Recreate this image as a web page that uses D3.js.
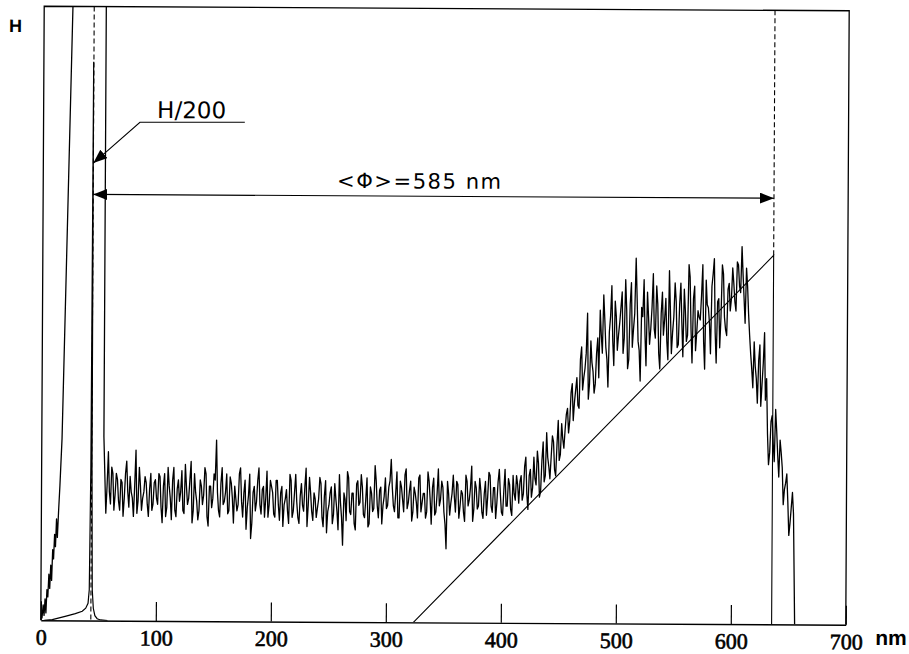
<!DOCTYPE html>
<html>
<head>
<meta charset="utf-8">
<script src="https://cdn.jsdelivr.net/npm/d3@7"></script>
<style>
  body { margin: 0; background: #fff; }
  svg { display: block; }
  .tick text { font-family: "Liberation Serif", "DejaVu Serif", serif; }
</style>
</head>
<body>
<svg id="chart" width="909" height="654"></svg>
<script>
// x axis ticks (nm)
const xTicks = [0, 100, 200, 300, 400, 500, 600, 700];

// magnified curve: steep rise at the origin [nm, value]
const riseData = [
  [1, 0.3], [2, 2.5], [2.8, 0.8], [3.6, 3.5], [4.4, 1.2], [5.2, 5], [6, 3.8],
  [6.8, 7.5], [7.6, 5.2], [8.4, 9], [9.2, 6.5], [10, 11.5], [10.8, 10],
  [11.6, 14], [12.4, 12], [13.2, 16.5], [14, 13.5], [15, 18], [16, 22],
  [17.6, 29.6], [25, 100], [25.5, 110]
];
// magnified curve: coming back down from off-scale
const fallData = [[54, 110], [54, 30]];

// magnified curve, noisy part: values at even nm (56, 58, ... 654)
const noiseEven = [
  // 56 - 100
  17.5, 27.5, 19, 24, 20.5, 23, 18, 22.5, 20, 26, 18.5, 21, 17, 27.8, 19.5, 22, 20, 23.5, 19, 21.5, 18, 22.5, 20,
  // 102 - 200
  24, 18.5, 22, 17, 25, 20, 23, 18, 21.5, 19.5, 24.5, 17.5, 22, 20, 26, 18, 21, 16.5, 23, 19,
  25, 17, 22, 18.5, 24, 29.5, 18, 22.5, 19, 21, 17.5, 23.5, 20, 22, 18, 24, 19.5, 21, 15, 20.5,
  13.5, 21, 18, 23, 19, 21.5, 17, 24.5, 19, 22,
  // 202 - 300
  17.5, 23, 19, 21, 15.5, 20, 18, 24, 17, 21, 19.5, 16, 22.5, 18, 25, 19, 21, 16.5, 20, 18.5,
  23.5, 17, 20.5, 14.5, 19, 22, 17.5, 20, 15, 19.5, 12.5, 20, 24.5, 18, 21, 16, 22.5, 19, 24, 17.5,
  20, 15.5, 22, 18, 25.5, 19, 21.5, 16, 20.5, 18.5,
  // 302 - 414
  22, 26.5, 19, 21, 17, 23, 20, 24, 18.5, 21.5, 16.5, 22, 19.5, 23.5, 18, 21, 17, 24.5, 20, 22,
  17.5, 21, 19, 23, 18, 12, 21, 19.5, 24, 18, 22.5, 19, 21, 16.5, 23, 20, 25.5, 18.5, 22, 19,
  21.5, 17, 23, 20.5, 24, 18, 22, 19.5, 25, 18, 21.5, 19, 23.5, 18.5, 24, 20, 22.5,
  // 416 - 454
  23, 20, 25.5, 21, 24, 20.5, 27, 22.5, 26, 21.5, 29.5, 24, 27, 23.5, 30.5, 25, 29, 26.5, 32.5, 28.5,
  // 456 - 484
  34, 31, 37.5, 33, 38, 35.5, 43, 38, 41.5, 50.5, 39, 42.5, 37.5, 44, 40,
  // 486 - 600
  47, 53.5, 45, 38.5, 50, 46, 52.5, 44.5, 49, 54, 46.5, 51, 43, 55.5, 48, 59.5, 46, 39.5, 50, 47,
  54, 45.5, 51.5, 48, 55, 44, 50.5, 47, 53, 43, 51, 47.5, 55.5, 45, 52, 49, 54.5, 46, 58.5, 48,
  53, 44.5, 51, 49.5, 58.5, 41.5, 52, 49, 55, 59.5, 42.5, 53, 50, 57, 48, 54.5, 51, 58,
  // 602 - 614
  52.5, 59, 55, 61.5, 53, 58, 50.5,
  // 616 - 654
  44, 38.5, 42, 36, 45.5, 39, 47.5, 40, 26, 33, 29.5, 35, 27.5, 30, 25.5, 22, 24.5, 14.5, 19, 18
];
// magnified curve, noisy part: values at odd nm (57, 59, ... 653)
const noiseOdd = [
  // 57 - 99
  22, 21, 25, 18, 24, 19.5, 23, 17, 24, 21, 23.5, 20, 22, 17.5, 25, 18, 21, 22.5, 17, 24, 19, 23,
  // 101 - 199
  19, 23.5, 16, 24, 18.5, 22, 16.5, 25, 17, 23,
  21, 18, 25.5, 19, 23, 16, 24, 19.5, 18, 22,
  20.5, 24, 15.5, 22, 20, 23, 21, 17, 25, 19.5,
  24, 18, 22.5, 16, 20, 19, 25, 17, 23, 18.5,
  24, 16, 22, 19.5, 25, 17.5, 22, 20, 17, 23,
  // 201 - 299
  21, 17, 23, 16.5, 22, 19, 21.5, 16, 23, 18,
  24, 17, 20.5, 19, 22, 15.5, 23.5, 18, 21, 17,
  20, 22.5, 15.5, 23, 18, 21, 16, 22.5, 18, 24,
  17, 21, 16.5, 23.5, 17.5, 21, 15, 23, 19.5, 22,
  17, 23.5, 16, 21, 18.5, 23, 17, 22, 19, 23.5,
  // 301 - 413
  19, 23, 22, 18, 24.5, 17, 22, 18, 25, 19.5,
  23, 18, 21, 17, 24, 19.5, 21, 18, 23, 16,
  23.5, 18, 25, 20, 22, 16, 23, 17.5, 21, 20.5,
  23, 17, 21.5, 18, 24, 19, 22, 16.5, 23, 18.5,
  23.5, 18, 21, 17.5, 24.5, 19, 22, 17, 23, 21,
  17.5, 25, 19, 22.5, 17.5, 21, 24,
  // 415 - 453
  19.5, 24, 21, 27, 18.5, 25, 22, 23.5, 28, 20.5, 26.5, 23, 31, 25.5, 27, 29.5, 24, 33, 27.5, 30,
  // 455 - 483
  31.5, 35, 33, 39, 36, 40, 35, 45, 40, 44, 36.5, 46, 41, 39, 46.5,
  // 485 - 599
  51, 44, 49.5, 43, 47.5, 55, 42, 50, 47, 51.5,
  44, 56, 41.5, 52, 45, 50.5, 53, 44.5, 51.5, 56,
  42, 50, 48, 57, 46.5, 52, 41.5, 54, 49.5, 46,
  57.5, 44, 50, 52.5, 45.5, 55.5, 43.5, 51, 47, 56.5,
  42.5, 55, 47.5, 50, 53.5, 46, 56, 51.5, 44, 57,
  47.5, 52.5, 45, 58.5, 50, 47, 55.5, 53,
  // 601 - 613
  55.5, 51, 58.5, 54, 57, 49, 55,
  // 615 - 653
  47, 41.5, 46, 40, 43, 35.5, 42.5, 36.5, 31, 28, 34, 26.5, 31.5, 24, 28, 19.5, 23, 20, 16.5, 21.5
];
const noiseStart = 56;
const tailData = [[655.5, 0]];

// unscaled curve with the narrow peak (height H)
const peakData = [
  [3, 0], [10, 0.1], [16, 0.4], [22, 0.7], [30, 1.1], [36, 1.5], [39, 2], [41, 2.8],
  [42, 5], [42.8, 25], [43.3, 91], [43.8, 25], [44.6, 5], [45.6, 2], [47, 0.8],
  [49, 0.3], [52, 0.1], [58, 0]
];

// straight line fitted to the rise, ending at the right marker
const fitData = [[324, 0], [635.5, 60.1], [635.5, 0]];

// markers and annotations
const markLeft = 43.5, markRight = 635.5, markTop = 60.1;
const arrowLevel = 69.4;
const phiLabel = "<Φ>=585 nm";
const hLabel = "H/200";

const svg = d3.select("#chart");

const x = d3.scaleLinear().domain([0, 700]).range([42.5, 847.5]);
const y = d3.scaleLinear().domain([0, 100]).range([622.5, 8.5]);

const defs = svg.append("defs");
defs.append("clipPath").attr("id", "plotClip")
  .append("rect")
    .attr("x", x(0)).attr("y", y(100))
    .attr("width", x(700) - x(0)).attr("height", y(0) - y(100));

defs.append("marker")
    .attr("id", "arrow")
    .attr("viewBox", "0 0 14 11")
    .attr("refX", 14).attr("refY", 5.5)
    .attr("markerWidth", 14).attr("markerHeight", 11)
    .attr("markerUnits", "userSpaceOnUse")
    .attr("orient", "auto-start-reverse")
  .append("path")
    .attr("d", "M0,0L14,5.5L0,11Z")
    .attr("fill", "#000");

// the scan is a little tilted
const g = svg.append("g").attr("transform", "rotate(0.32,445,315)");

const line = d3.line().x(d => x(d[0])).y(d => y(d[1]));

// frame (top, left, right)
g.append("path")
  .attr("d", `M${x(0)},${y(0)}V${y(100)}H${x(700)}V${y(0)}`)
  .attr("fill", "none")
  .attr("stroke", "#000")
  .attr("stroke-width", 1.3);

// x axis
const ax = g.append("g")
  .attr("transform", `translate(0,${y(0)})`)
  .call(d3.axisBottom(x)
    .tickValues(xTicks)
    .tickSizeInner(-19)
    .tickSizeOuter(0)
    .tickPadding(9)
    .tickFormat(d3.format("d")));
ax.attr("font-family", null).attr("font-size", 22);
ax.select(".domain").attr("stroke-width", 1.4);
ax.selectAll(".tick line").attr("stroke-width", 1.2);
ax.selectAll(".tick text").attr("stroke", "#000").attr("stroke-width", 0.6);

// dashed markers
g.append("line")
  .attr("x1", x(markLeft)).attr("x2", x(markLeft))
  .attr("y1", y(100)).attr("y2", y(0))
  .attr("stroke", "#000").attr("stroke-width", 1.1)
  .attr("stroke-dasharray", "5,3");
g.append("line")
  .attr("x1", x(markRight)).attr("x2", x(markRight))
  .attr("y1", y(100)).attr("y2", y(markTop))
  .attr("stroke", "#000").attr("stroke-width", 1.1)
  .attr("stroke-dasharray", "5,3");

const plot = g.append("g").attr("clip-path", "url(#plotClip)");

// magnified curve
const noiseData = [];
noiseEven.forEach((v, i) => {
  noiseData.push([noiseStart + 2 * i, v]);
  if (i < noiseOdd.length) noiseData.push([noiseStart + 2 * i + 1, noiseOdd[i]]);
});
const magData = riseData.concat(fallData, noiseData, tailData);
plot.append("path")
  .datum(magData)
  .attr("d", line)
  .attr("fill", "none")
  .attr("stroke", "#000")
  .attr("stroke-width", 1.3)
  .attr("stroke-linejoin", "round");

// unscaled curve
plot.append("path")
  .datum(peakData)
  .attr("d", line)
  .attr("fill", "none")
  .attr("stroke", "#000")
  .attr("stroke-width", 1.2);

// fitted line
plot.append("path")
  .datum(fitData)
  .attr("d", line)
  .attr("fill", "none")
  .attr("stroke", "#000")
  .attr("stroke-width", 1.1);

// double arrow <Φ>
g.append("line")
  .attr("x1", x(markLeft)).attr("x2", x(markRight))
  .attr("y1", y(arrowLevel)).attr("y2", y(arrowLevel))
  .attr("stroke", "#000").attr("stroke-width", 1.1)
  .attr("marker-start", "url(#arrow)")
  .attr("marker-end", "url(#arrow)");

g.append("text")
  .attr("x", x(255.5)).attr("y", y(70.67))
  .attr("font-family", "'DejaVu Sans', sans-serif")
  .attr("font-size", 21)
  .attr("textLength", 164)
  .attr("lengthAdjust", "spacing")
  .text(phiLabel);

// H/200 leader
g.append("path")
  .attr("d", line([[175, 81.3], [83.8, 81.2], [markLeft, 74.5]]))
  .attr("fill", "none")
  .attr("stroke", "#000").attr("stroke-width", 1.1)
  .attr("marker-end", "url(#arrow)");

g.append("text")
  .attr("x", x(98.7)).attr("y", y(81.9))
  .attr("font-family", "'DejaVu Sans', sans-serif")
  .attr("font-size", 23)
  .text(hLabel);

// axis names
g.append("text")
  .attr("x", 7.4).attr("y", 34.4)
  .attr("font-family", "'Liberation Sans', Arial, sans-serif")
  .attr("font-weight", "bold")
  .attr("font-size", 18)
  .text("H");

g.append("text")
  .attr("x", 877).attr("y", 642.6)
  .attr("font-family", "'Liberation Sans', Arial, sans-serif")
  .attr("font-weight", "bold")
  .attr("font-size", 21)
  .text("nm");
</script>
</body>
</html>
